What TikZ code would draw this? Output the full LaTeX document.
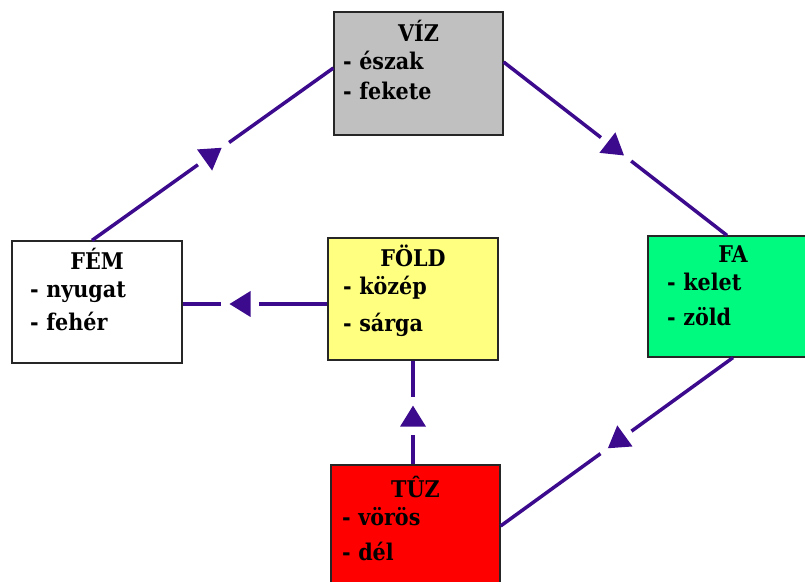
\documentclass[tikz,border=0pt]{standalone}
\usepackage{fontspec}
\setmainfont{DejaVu Serif Condensed}
\usetikzlibrary{decorations.markings}

\definecolor{vizgray}{HTML}{C0C0C0}
\definecolor{fagreen}{HTML}{00FA80}
\definecolor{foldyellow}{HTML}{FFFF80}
\definecolor{tuzred}{HTML}{FF0000}
\definecolor{linkcol}{HTML}{3C0A8C}

\tikzset{
  elem/.style={draw=black!85, line width=1.2pt, inner sep=0pt, minimum width=#1,
    font=\bfseries\fontsize{23}{28}\selectfont},
  link/.style={draw=linkcol, line width=3.5pt, postaction={decorate},
    decoration={markings, mark=at position #1 with {
      \fill[white] (-18pt,-3pt) rectangle (20pt,3pt);
      \fill[linkcol] (11pt,0pt) -- (-10pt,13pt) -- (-10pt,-13pt) -- cycle;}}},
  link/.default=0.5
}

\begin{document}
\begin{tikzpicture}[x=1pt, y=1pt]
  \useasboundingbox (0,0) rectangle (805,581);

  % the five elements
  \node[elem=169pt, fill=vizgray, text width=151pt, text height=30pt, text depth=93pt] (viz) at (418.5,507.5)
    {\centering VÍZ\par\raggedright - észak\\[2pt] - fekete};

  \node[elem=170pt, fill=white, text width=134pt, text height=29pt, text depth=93pt] (fem) at (97,279)
    {\centering FÉM\par\raggedright - nyugat\\[5pt] - fehér};

  \node[elem=170pt, fill=foldyellow, text width=140pt, text height=29pt, text depth=93pt] (fold) at (413,282)
    {\centering FÖLD\par\raggedright - közép\\[9pt] - sárga};

  \node[elem=170pt, fill=fagreen, text width=132pt, text height=27pt, text depth=94pt] (fa) at (733,284.5)
    {\centering FA\par\raggedright - kelet\\[7pt] - zöld};

  \node[elem=169pt, fill=tuzred, text width=147pt, text height=32pt, text depth=90pt] (tuz) at (415.5,55)
    {\centering TÛZ\par\raggedright - vörös\\[7pt] - dél};

  % generating cycle
  \draw[link] ([yshift=11.5pt]viz.east) -- ([xshift=-6pt]fa.north);
  \draw[link] (fa.south) -- (tuz.east);
  \draw[link=0.46] (fold.south |- tuz.north) -- (fold.south);
  \draw[link=0.6] ([yshift=-5pt]fold.west) -- ([yshift=-5pt]fold.west -| fem.east);
  \draw[link] ([xshift=-5pt]fem.north) -- ([yshift=5.5pt]viz.west);
\end{tikzpicture}
\end{document}
